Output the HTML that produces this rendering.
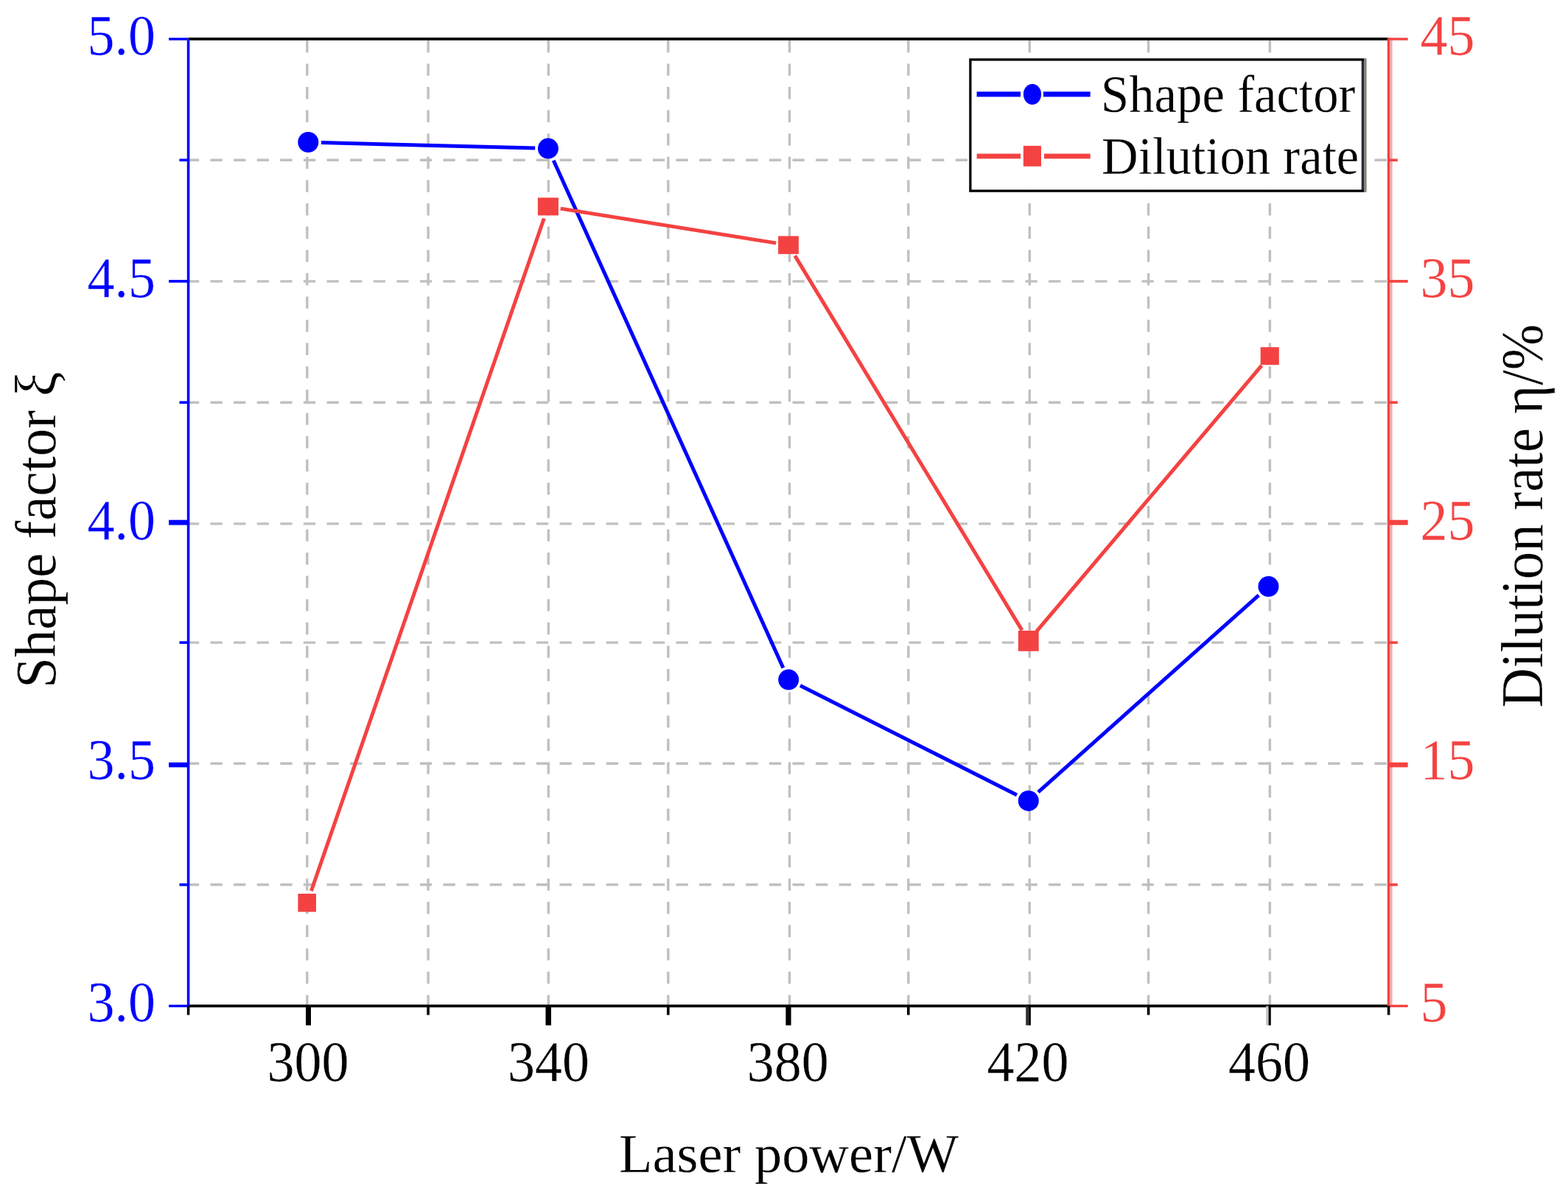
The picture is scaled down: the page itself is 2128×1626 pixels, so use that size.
<!DOCTYPE html>
<html><head><meta charset="utf-8"><title>Shape factor and dilution rate vs laser power</title>
<style>html,body{margin:0;padding:0;background:#fff;}svg{display:block;}</style></head>
<body>
<svg width="2128" height="1626" viewBox="0 0 2128 1626">
<rect width="2128" height="1626" fill="#fff"/>
<g stroke="#c0c0c0" stroke-width="3.4" fill="none">
<line x1="253.9" y1="217.3" x2="1883" y2="217.3" stroke-dasharray="16.3 15.3"/>
<line x1="253.9" y1="381.9" x2="1883" y2="381.9" stroke-dasharray="16.3 15.3"/>
<line x1="253.9" y1="546.2" x2="1883" y2="546.2" stroke-dasharray="16.3 15.3"/>
<line x1="253.9" y1="710.9" x2="1883" y2="710.9" stroke-dasharray="16.3 15.3"/>
<line x1="253.9" y1="872.1" x2="1883" y2="872.1" stroke-dasharray="16.3 15.3"/>
<line x1="253.9" y1="1036.3" x2="1883" y2="1036.3" stroke-dasharray="16.3 15.3"/>
<line x1="253.9" y1="1200.8" x2="1883" y2="1200.8" stroke-dasharray="16.3 15.3"/>
<line x1="416.8" y1="54.8" x2="416.8" y2="1364" stroke-dasharray="16.4 15.2"/>
<line x1="581.1" y1="54.8" x2="581.1" y2="1364" stroke-dasharray="16.4 15.2"/>
<line x1="744.3" y1="54.8" x2="744.3" y2="1364" stroke-dasharray="16.4 15.2"/>
<line x1="906.8" y1="54.8" x2="906.8" y2="1364" stroke-dasharray="16.4 15.2"/>
<line x1="1071.5" y1="54.8" x2="1071.5" y2="1364" stroke-dasharray="16.4 15.2"/>
<line x1="1232.8" y1="54.8" x2="1232.8" y2="1364" stroke-dasharray="16.4 15.2"/>
<line x1="1397.3" y1="54.8" x2="1397.3" y2="1364" stroke-dasharray="16.4 15.2"/>
<line x1="1558.6" y1="54.8" x2="1558.6" y2="1364" stroke-dasharray="16.4 15.2"/>
<line x1="1723.4" y1="54.8" x2="1723.4" y2="1364" stroke-dasharray="16.4 15.2"/>
</g>
<rect x="1316.9" y="80.9" width="532.5" height="178.2" fill="#fff" stroke="#000" stroke-width="3.3"/>
<rect x="1851" y="79.2" width="3.6" height="181.6" fill="#858279"/>
<rect x="1848" y="82.5" width="3" height="175" fill="#2e2838"/>
<g stroke-width="3.6" fill="none">
<line x1="253.9" y1="1365.4" x2="1886.3" y2="1365.4" stroke="#000"/>
<line x1="255.6" y1="52.9" x2="1884.6" y2="52.9" stroke="#000"/>
<line x1="255.6" y1="54.6" x2="255.6" y2="1367.1" stroke="#0000ff"/>
<line x1="1884.6" y1="51.2" x2="1884.6" y2="1367.1" stroke="#f44242"/>
</g>
<rect x="1886.3" y="54.5" width="3.3" height="1309" fill="#f5aaaa"/>
<g stroke-width="3.6" fill="none">
<rect x="229.1" y="51.3" width="26.5" height="3.4" fill="#0000ff" stroke="none"/>
<rect x="1884.6" y="51.3" width="26.1" height="3.4" fill="#f44242" stroke="none"/>
<rect x="229.1" y="379.9" width="26.5" height="3.7" fill="#0000ff" stroke="none"/>
<rect x="1884.6" y="379.9" width="26.1" height="3.7" fill="#f44242" stroke="none"/>
<rect x="229.1" y="705.7" width="26.5" height="6.9" fill="#0000ff" stroke="none"/>
<rect x="1884.6" y="705.7" width="26.1" height="6.9" fill="#f44242" stroke="none"/>
<rect x="229.1" y="1034.8" width="26.5" height="6.6" fill="#0000ff" stroke="none"/>
<rect x="1884.6" y="1034.8" width="26.1" height="6.6" fill="#f44242" stroke="none"/>
<rect x="229.1" y="1363.7" width="26.5" height="3.4" fill="#0000ff" stroke="none"/>
<rect x="1884.6" y="1363.7" width="26.1" height="3.4" fill="#f44242" stroke="none"/>
<line x1="243.5" y1="217.3" x2="255.6" y2="217.3" stroke="#0000ff"/>
<line x1="1884.6" y1="217.3" x2="1896.8" y2="217.3" stroke="#f44242"/>
<line x1="243.5" y1="546.2" x2="255.6" y2="546.2" stroke="#0000ff"/>
<line x1="1884.6" y1="546.2" x2="1896.8" y2="546.2" stroke="#f44242"/>
<line x1="243.5" y1="872.1" x2="255.6" y2="872.1" stroke="#0000ff"/>
<line x1="1884.6" y1="872.1" x2="1896.8" y2="872.1" stroke="#f44242"/>
<line x1="243.5" y1="1200.8" x2="255.6" y2="1200.8" stroke="#0000ff"/>
<line x1="1884.6" y1="1200.8" x2="1896.8" y2="1200.8" stroke="#f44242"/>
<line x1="255.6" y1="1365.4" x2="255.6" y2="1377.6" stroke="#000"/>
<line x1="581.1" y1="1365.4" x2="581.1" y2="1377.6" stroke="#000"/>
<line x1="906.8" y1="1365.4" x2="906.8" y2="1377.6" stroke="#000"/>
<line x1="1232.8" y1="1365.4" x2="1232.8" y2="1377.6" stroke="#000"/>
<line x1="1558.6" y1="1365.4" x2="1558.6" y2="1377.6" stroke="#000"/>
<line x1="1884.6" y1="1365.4" x2="1884.6" y2="1377.6" stroke="#000"/>
</g>
<rect x="415" y="1365.4" width="7.0" height="26.2" fill="#000"/>
<rect x="740.5" y="1365.4" width="7.5" height="26.2" fill="#000"/>
<rect x="1066.4" y="1365.4" width="7.2" height="26.2" fill="#000"/>
<rect x="1392.3" y="1365.4" width="3.3" height="26.2" fill="#2a2a2a"/>
<rect x="1395.6" y="1365.4" width="3.3" height="26.2" fill="#000"/>
<rect x="1718.2" y="1365.4" width="3.4" height="26.2" fill="#c4c4c4"/>
<rect x="1721.6" y="1365.4" width="3.2" height="26.2" fill="#000"/>
<g font-family="'Liberation Serif', serif" font-size="77.5" stroke="#fff" stroke-width="0.3">
<text transform="translate(211,73.9) scale(0.955,1)" text-anchor="end" fill="#0000ff">5.0</text>
<text transform="translate(211,402.9) scale(0.955,1)" text-anchor="end" fill="#0000ff">4.5</text>
<text transform="translate(211,731.9) scale(0.955,1)" text-anchor="end" fill="#0000ff">4.0</text>
<text transform="translate(211,1057.3) scale(0.955,1)" text-anchor="end" fill="#0000ff">3.5</text>
<text transform="translate(211,1386.4) scale(0.955,1)" text-anchor="end" fill="#0000ff">3.0</text>
<text transform="translate(1927.5,73.9) scale(0.955,1)" fill="#f44242">45</text>
<text transform="translate(1927.5,402.9) scale(0.955,1)" fill="#f44242">35</text>
<text transform="translate(1927.5,731.9) scale(0.955,1)" fill="#f44242">25</text>
<text transform="translate(1927.5,1057.3) scale(0.955,1)" fill="#f44242">15</text>
<text transform="translate(1927.5,1386.4) scale(0.955,1)" fill="#f44242">5</text>
<text transform="translate(417.9,1466.6) scale(0.955,1)" text-anchor="middle" fill="#000">300</text>
<text transform="translate(744.5,1466.6) scale(0.955,1)" text-anchor="middle" fill="#000">340</text>
<text transform="translate(1069.3,1466.6) scale(0.955,1)" text-anchor="middle" fill="#000">380</text>
<text transform="translate(1395.0,1466.6) scale(0.955,1)" text-anchor="middle" fill="#000">420</text>
<text transform="translate(1722.5,1466.6) scale(0.955,1)" text-anchor="middle" fill="#000">460</text>
</g>
<g font-family="'Liberation Serif', serif" fill="#000" stroke="#fff" stroke-width="0.3">
<text transform="translate(840,1591) scale(1.006,1)" font-size="74">Laser power/W</text>
<text transform="translate(74.5,934.1) rotate(-90) scale(0.969,1)" font-size="77.5">Shape factor ξ</text>
<text transform="translate(2092.5,960.5) rotate(-90) scale(0.94,1)" font-size="79.5">Dilution rate η/%</text>
</g>
<g fill="none" stroke-width="5.0">
<line x1="436.0" y1="193.5" x2="726.2" y2="201.1" stroke="#0000ff"/>
<line x1="751.2" y1="217.7" x2="1062.9" y2="906.5" stroke="#0000ff"/>
<line x1="1086.0" y1="930.6" x2="1380.0" y2="1078.9" stroke="#0000ff"/>
<line x1="1409.0" y1="1075.1" x2="1708.3" y2="807.8" stroke="#0000ff"/>
<line x1="422.4" y1="1209.2" x2="738.3" y2="296.5" stroke="#f44242"/>
<line x1="760.7" y1="283.1" x2="1053.2" y2="329.9" stroke="#f44242"/>
<line x1="1078.8" y1="347.1" x2="1387.0" y2="855.4" stroke="#f44242"/>
<line x1="1406.8" y1="856.9" x2="1712.2" y2="496.2" stroke="#f44242"/>
</g>
<circle cx="418.3" cy="193" r="14" fill="#0000ff"/>
<circle cx="743.9" cy="201.6" r="14" fill="#0000ff"/>
<circle cx="1070.2" cy="922.6" r="14" fill="#0000ff"/>
<circle cx="1395.8" cy="1086.9" r="14" fill="#0000ff"/>
<circle cx="1721.5" cy="796" r="14" fill="#0000ff"/>
<rect x="404.4" y="1213" width="24.6" height="24.6" fill="#f44242"/>
<rect x="729.9" y="268.3" width="28.0" height="24.1" fill="#f44242"/>
<rect x="1056.1" y="320.4" width="27.8" height="24.4" fill="#f44242"/>
<rect x="1381.9" y="856" width="27.8" height="27.8" fill="#f44242"/>
<rect x="1710.7" y="471.2" width="25.1" height="24.1" fill="#f44242"/>
<rect x="1325.6" y="124.4" width="59.5" height="7" fill="#0000ff"/>
<rect x="1416" y="124.4" width="63.7" height="7" fill="#0000ff"/>
<ellipse cx="1401" cy="128" rx="12.1" ry="14" fill="#0000ff"/>
<rect x="1325.6" y="208.6" width="59.5" height="6.8" fill="#f44242"/>
<rect x="1417" y="208.6" width="62.7" height="6.8" fill="#f44242"/>
<rect x="1388.9" y="197.9" width="24.1" height="27.9" fill="#f44242"/>
<g font-family="'Liberation Serif', serif" fill="#000" font-size="72" stroke="#fff" stroke-width="0.3">
<text transform="translate(1494,152.4) scale(0.955,1)">Shape factor</text>
<text transform="translate(1495,236) scale(0.955,1)">Dilution rate</text>
</g>
</svg>
</body></html>
